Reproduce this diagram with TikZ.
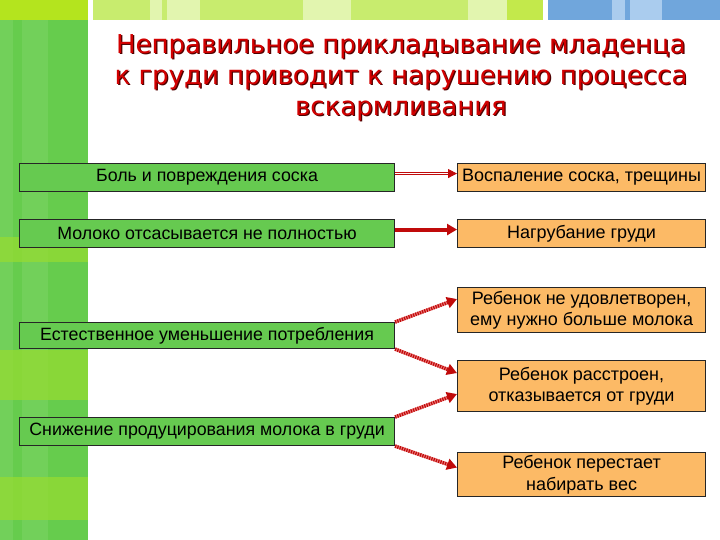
\documentclass[tikz,border=0pt]{standalone}
\usepackage{fontspec}
\setmainfont{Liberation Sans}
\newfontfamily\titlefont{DejaVu Sans}
\usetikzlibrary{arrows.meta,calc}
\definecolor{boxgreen}{RGB}{102,202,80}
\definecolor{boxorange}{RGB}{252,186,102}
\definecolor{arrred}{RGB}{192,10,10}
\definecolor{arrpink}{RGB}{235,120,120}
\definecolor{titred}{RGB}{210,0,0}
\definecolor{titshadow}{RGB}{80,0,0}
\definecolor{sidegreen}{RGB}{102,204,77}
\definecolor{sidelime}{RGB}{150,220,50}
\definecolor{toplime}{RGB}{180,228,30}
\definecolor{barg}{RGB}{200,236,110}
\definecolor{barpale}{RGB}{226,245,175}
\definecolor{barblue}{RGB}{112,166,220}
\definecolor{barlblue}{RGB}{170,204,238}
\tikzset{
  lbox/.style={draw=black!85, line width=1.1pt, fill=boxgreen, minimum width=375pt, minimum height=28pt, inner sep=1pt, font=\fontsize{17.8}{20}\selectfont, anchor=north west},
  rbox/.style={draw=black!85, line width=1.1pt, fill=boxorange, minimum width=248pt, inner sep=1pt, align=center, font=\fontsize{18}{21.5}\selectfont, anchor=north west},
  outarrow/.style={draw=arrred, line width=0.8pt, double=white, double distance=1.4pt, -{Triangle[length=9pt,width=9pt]}},
  solidarrow/.style={draw=arrred, line width=4pt, -{Triangle[length=10pt,width=11pt]}},
  texarrow/.style={draw=arrred, line width=3.5pt, dash pattern=on 1.2pt off 1.2pt, -{Triangle[length=10pt,width=11pt]},
     preaction={draw=arrpink, line width=3.5pt, -, shorten >=8pt}},
  titletext/.style={align=center, font=\titlefont\fontsize{26}{31}\selectfont}
}
\begin{document}
\begin{tikzpicture}[x=1pt,y=-1pt]
\useasboundingbox (0,0) rectangle (720,540);
\fill[white] (0,0) rectangle (720,540);
% sidebar
\fill[sidegreen] (0,0) rectangle (88,540);
\fill[white,opacity=0.08] (0,20) rectangle (13,540);
\fill[white,opacity=0.08] (22,20) rectangle (48,540);
\fill[sidelime,opacity=0.75] (0,237) rectangle (88,262);
\fill[sidelime,opacity=0.75] (0,350) rectangle (88,400);
\fill[sidelime,opacity=0.75] (0,477) rectangle (88,520);
\fill[toplime] (0,0) rectangle (88,20);
% top bar
\fill[barg] (93,0) rectangle (543,20);
\fill[barpale] (150,0) rectangle (162,20);
\fill[barpale] (167,0) rectangle (200,20);
\fill[barpale] (303,0) rectangle (351,20);
\fill[barpale] (468,0) rectangle (507,20);
\fill[toplime!80] (507,0) rectangle (543,20);
\fill[barblue] (548,0) rectangle (720,20);
\fill[barlblue] (612,0) rectangle (625,20);
\fill[barlblue] (630,0) rectangle (662,20);
% title
\node[titletext, text=titshadow] at (402.2,79.2) {Неправильное прикладывание младенца\\к груди приводит к нарушению процесса\\вскармливания};
\node[titletext, text=titred] (title) at (401,78) {Неправильное прикладывание младенца\\к груди приводит к нарушению процесса\\вскармливания};
% left boxes
\node[lbox] (L1) at (19,163) {Боль и повреждения соска};
\node[lbox] (L2) at (19,219) {Молоко отсасывается не полностью};
\node[lbox, minimum height=26pt] (L3) at (19,322) {Естественное уменьшение потребления};
\node[lbox] (L4) at (19,417) {Снижение продуцирования молока в груди};
% right boxes
\node[rbox, minimum height=28pt] (R1) at (457,163) {Воспаление соска, трещины};
\node[rbox, minimum height=28pt] (R2) at (457,219) {Нагрубание груди};
\node[rbox, minimum height=45pt] (R3) at (457,287) {Ребенок не удовлетворен,\\ему нужно больше молока};
\node[rbox, minimum height=51pt] (R4) at (457,360) {Ребенок расстроен,\\отказывается от груди};
\node[rbox, minimum height=44pt] (R5) at (457,452) {Ребенок перестает\\набирать вес};
% arrows
\draw[outarrow] ([yshift=4pt]L1.east) -- ([yshift=4pt]R1.west);
\draw[solidarrow] ([yshift=4pt]L2.east) -- ([yshift=4pt]R2.west);
\draw[texarrow] (L3.north east) -- ([yshift=11pt]R3.west);
\draw[texarrow] (L3.south east) -- ([yshift=13pt]R4.west);
\draw[texarrow] (L4.north east) -- ([yshift=-8pt]R4.west);
\draw[texarrow] (L4.south east) -- ([yshift=7pt]R5.west);
\end{tikzpicture}
\end{document}
